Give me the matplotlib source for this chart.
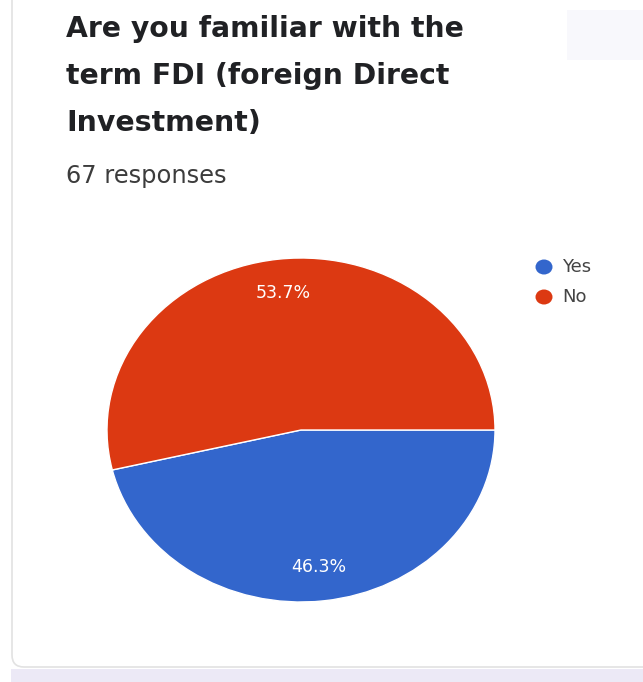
import matplotlib
matplotlib.use("Agg")
import matplotlib.pyplot as plt
from matplotlib.patches import Rectangle, Ellipse, PathPatch
from matplotlib.path import Path
from matplotlib.transforms import IdentityTransform

# survey answers
labels = ["Yes", "No"]
counts = [31, 36]
colors = ["#3366cc", "#dc3912"]
title_lines = ["Are you familiar with the", "term FDI (foreign Direct", "Investment)"]
n_responses = sum(counts)

plt.rcParams["font.family"] = ["DejaVu Sans"]

W, H = 643, 682
fig = plt.figure(figsize=(W / 100, H / 100), dpi=100)
fig.patch.set_facecolor("white")
renderer = fig.canvas.get_renderer()


def fit_text(x, y, s, width, **kw):
    # place text at pixel coords and scale font so it spans `width` pixels
    t = fig.text(x / W, 1 - y / H, s, fontsize=10, zorder=4, **kw)
    bb = t.get_window_extent(renderer)
    t.set_fontsize(10 * width / bb.width)
    return t


# page background strip and card outline (pixel coordinates, origin bottom-left)
px = IdentityTransform()
fig.patches.append(Rectangle((11, 0), W, 13, transform=px,
                             facecolor="#ece9f6", edgecolor="none", zorder=0))
r = 12
card = Path([(12, H + 1), (12, 15 + r), (12, 15), (12 + r, 15), (W + 1, 15)],
            [Path.MOVETO, Path.LINETO, Path.CURVE3, Path.CURVE3, Path.LINETO])
fig.patches.append(PathPatch(card, transform=px, facecolor="none",
                             edgecolor="#e2e2e2", linewidth=1.2, zorder=1))
fig.patches.append(Rectangle((567, H - 60), 80, 50, transform=px,
                             facecolor="#f8f8fc", edgecolor="none", zorder=1))

# title and response count
title_widths = [397, 383, 194]
title_base = [37, 84, 131]
for line, wd, yb in zip(title_lines, title_widths, title_base):
    fit_text(66, yb, line, wd, fontweight="bold", color="#202124",
             va="baseline", ha="left")
fit_text(66, 183, f"{n_responses} responses", 160, color="#3c3c3c",
         va="baseline", ha="left")

# stretched pie
ax = fig.add_axes([107 / W, 1 - 602 / H, 388 / W, 344 / H])
ax.set_zorder(3)
wedges, texts, autotexts = ax.pie(
    counts, colors=colors, startangle=0, counterclock=False,
    autopct="%1.1f%%", pctdistance=0.8,
    wedgeprops=dict(edgecolor="white", linewidth=1),
    textprops=dict(color="white", fontsize=12.5),
)
ax.set_aspect("auto")
ax.set_xlim(-1, 1)
ax.set_ylim(-1, 1)
ax.axis("off")

# legend
for i, (lab, c) in enumerate(zip(labels, colors)):
    yc = 267 + i * 30
    fig.patches.append(Ellipse((544 / W, 1 - yc / H), 17 / W, 15 / H,
                               transform=fig.transFigure, facecolor=c,
                               edgecolor="none", zorder=4))
    fig.text(562 / W, 1 - yc / H, lab, fontsize=13, color="#444444",
             va="center", ha="left", zorder=4)

fig.savefig("out.png", dpi=100)
